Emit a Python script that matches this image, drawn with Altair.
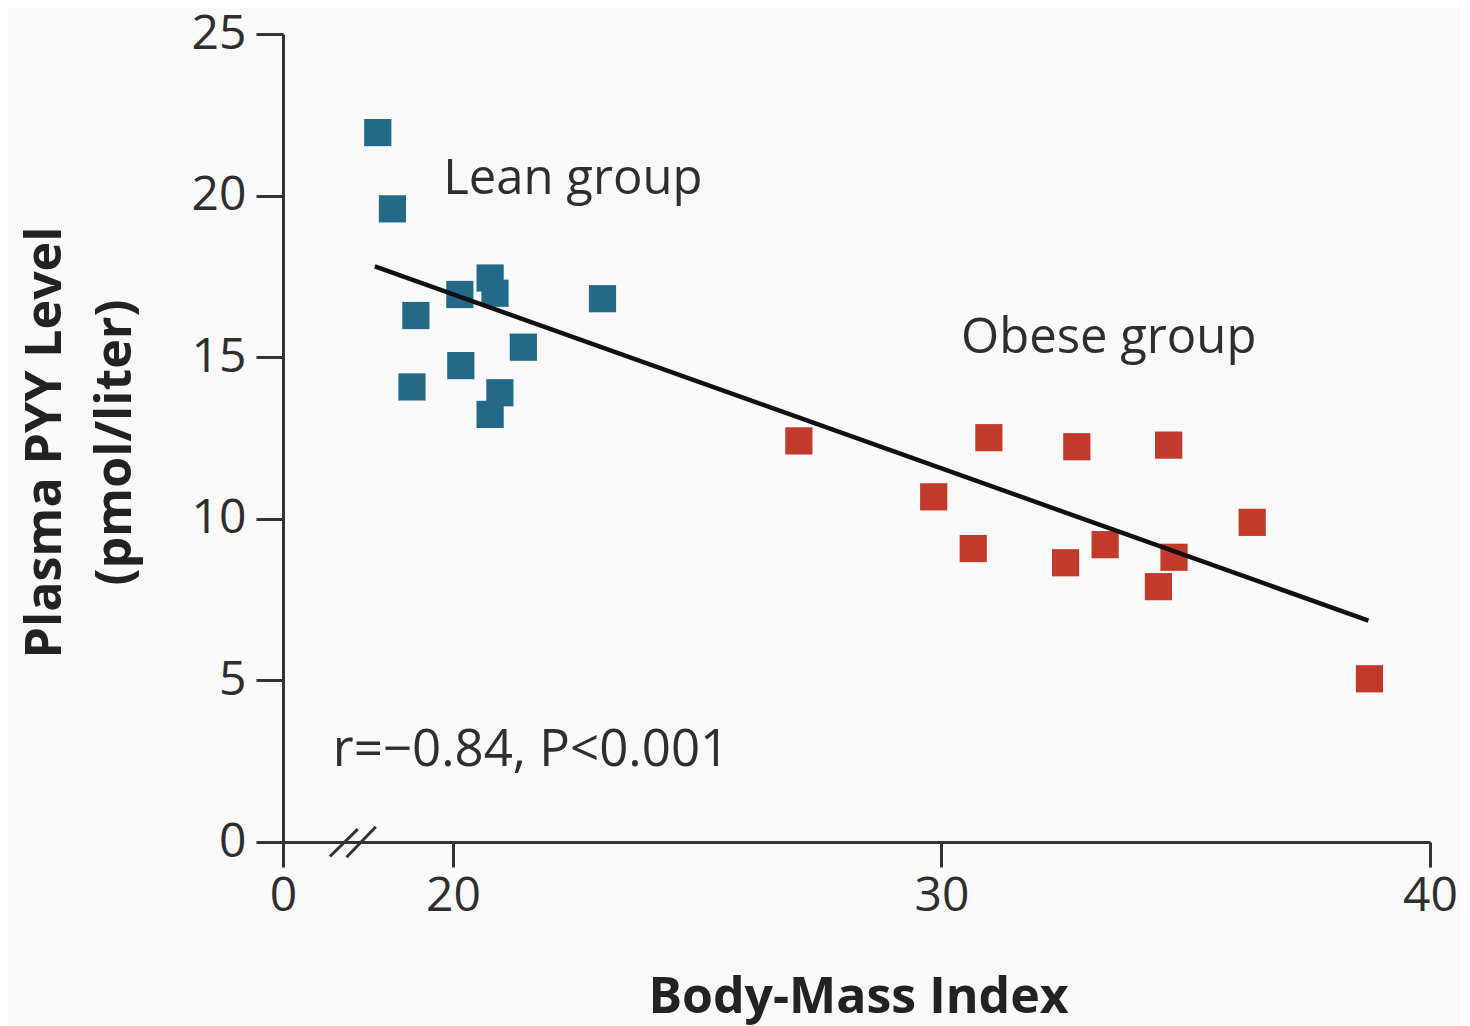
import altair as alt
import pandas as pd

# ---- data ----
lean_bmi = [18.46, 18.76, 19.24, 19.16, 20.14, 20.16, 20.76, 20.86, 20.96, 20.76, 21.44, 23.06]
lean_pyy = [21.95, 19.59, 16.29, 14.08, 16.94, 14.74, 17.45, 16.98, 13.90, 13.23, 15.31, 16.81]
obese_bmi = [27.08, 30.97, 32.77, 34.65, 29.84, 36.36, 30.65, 32.54, 33.35, 34.76, 34.44, 38.76]
obese_pyy = [12.41, 12.51, 12.23, 12.28, 10.68, 9.89, 9.08, 8.64, 9.20, 8.81, 7.90, 5.05]

fit_bmi = [18.40, 38.74]
fit_pyy = [17.81, 6.85]

# broken-axis position of the "0" tick and the break marks
X_BREAK = 16.52
x_tick_values = [X_BREAK, 20, 30, 40]
y_tick_values = [0, 5, 10, 15, 20, 25]
break_bmi = [17.48, 17.82]
break_bmi2 = [18.05, 18.42]
break_pyy = [-0.45, -0.47]
break_pyy2 = [0.40, 0.47]

group_labels = ["Lean group", "Obese group"]
group_label_bmi = [19.80, 30.40]
group_label_pyy = [20.04, 15.12]

stat_label = ["r=\u22120.84, P<0.001"]
stat_label_bmi = [17.54]
stat_label_pyy = [2.35]

FONT = "Open Sans"
TXT = "#2e2e2e"

points = pd.DataFrame({
    "bmi": lean_bmi + obese_bmi,
    "pyy": lean_pyy + obese_pyy,
    "group": ["Lean"] * len(lean_bmi) + ["Obese"] * len(obese_bmi),
})
fit = pd.DataFrame({"bmi": fit_bmi, "pyy": fit_pyy})
breaks = pd.DataFrame({"bmi": break_bmi, "bmi2": break_bmi2, "pyy": break_pyy, "pyy2": break_pyy2})
gtexts = pd.DataFrame({"bmi": group_label_bmi, "pyy": group_label_pyy, "label": group_labels})
stexts = pd.DataFrame({"bmi": stat_label_bmi, "pyy": stat_label_pyy, "label": stat_label})

x_scale = alt.Scale(domain=[X_BREAK, 40], nice=False, zero=False)
y_scale = alt.Scale(domain=[0, 25], nice=False)

x_axis = alt.Axis(
    values=x_tick_values,
    labelExpr="datum.value < 18 ? '0' : datum.label",
    title="Body-Mass Index",
    titleX=575, titleY=170, titleBaseline="alphabetic", titleAlign="center",
    tickSize=25, labelPadding=5, labelFlush=False, labelOverlap=False,
)
y_axis = alt.Axis(
    values=y_tick_values,
    title=["Plasma PYY Level", "(pmol/liter)"],
    titleX=-223, titleY=408, titleBaseline="alphabetic", titleAlign="center",
    titleLineHeight=70, tickSize=27, labelPadding=10,
)

pts = alt.Chart(points).mark_point(shape="square", filled=True, opacity=1, size=740).encode(
    x=alt.X("bmi:Q", scale=x_scale, axis=x_axis),
    y=alt.Y("pyy:Q", scale=y_scale, axis=y_axis),
    color=alt.Color("group:N", scale=alt.Scale(domain=["Lean", "Obese"], range=["#236a89", "#c23a2b"]), legend=None),
)

line = alt.Chart(fit).mark_line(color="#111111", strokeWidth=4.5).encode(
    x="bmi:Q", y="pyy:Q"
)

slashes = alt.Chart(breaks).mark_rule(color="#333333", strokeWidth=3).encode(
    x="bmi:Q", x2="bmi2:Q", y="pyy:Q", y2="pyy2:Q"
)

gtxt = alt.Chart(gtexts).mark_text(
    align="left", baseline="alphabetic", font=FONT, fontSize=49, color=TXT
).encode(x="bmi:Q", y="pyy:Q", text="label:N")

stxt = alt.Chart(stexts).mark_text(
    align="left", baseline="alphabetic", font=FONT, fontSize=51, color=TXT
).encode(x="bmi:Q", y="pyy:Q", text="label:N")

chart = alt.layer(pts, line, slashes, gtxt, stxt).properties(
    width=1147, height=808,
    autosize=alt.AutoSizeParams(type="none"),
    padding={"left": 275, "top": 26, "right": 30, "bottom": 184},
    background="#f9f9f9",
).configure_view(stroke=None).configure_axis(
    grid=False,
    domainColor="#333333", domainWidth=3,
    tickColor="#333333", tickWidth=3,
    labelFont=FONT, labelFontSize=48, labelColor=TXT,
    titleFont=FONT, titleFontSize=50, titleFontWeight="bold", titleColor="#222222",
)

chart.save("out.html", embed_options={"renderer": "svg", "actions": False})
